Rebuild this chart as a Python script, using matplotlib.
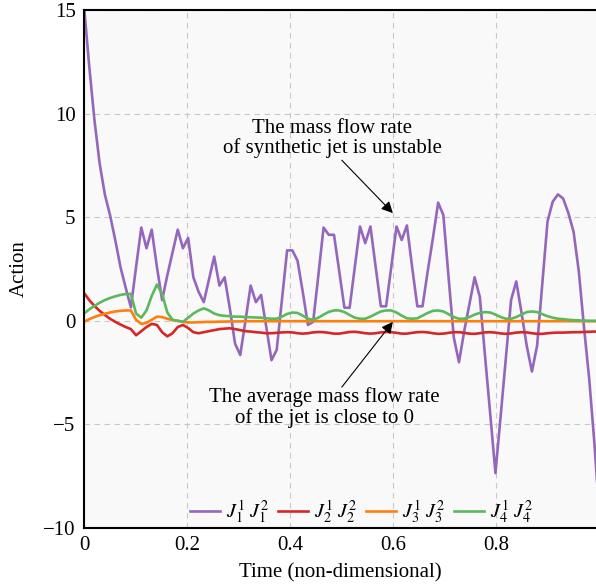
import matplotlib

matplotlib.use("Agg")
import matplotlib.pyplot as plt
import numpy as np

plt.rcParams["font.family"] = ["Liberation Serif", "DejaVu Serif"]
plt.rcParams["mathtext.fontset"] = "stix"

# time grid: 100 samples over [0, 1]
t = np.linspace(0, 1, 100)

j1 = [15.2, 12.3, 9.7, 7.6, 6.1, 5.1, 3.9, 2.6, 1.6, 0.65,
      2.6, 4.5, 3.5, 4.4, 2.6, 1.0, 2.2, 3.3, 4.4, 3.5,
      4.0, 2.1, 1.4, 0.9, 2.0, 3.1, 1.7, 2.1, 0.6, -1.1,
      -1.65, 0.0, 1.7, 0.9, 1.25, -0.3, -1.9, -1.4, 1.0, 3.4,
      3.4, 2.9, 1.4, -0.2, -0.05, 2.2, 4.5, 4.15, 4.15, 2.4,
      0.63, 0.63, 2.6, 4.55, 3.75, 4.55, 2.6, 0.7, 0.7, 2.6,
      4.55, 3.9, 4.6, 2.6, 0.7, 0.7, 2.4, 4.0, 5.7, 5.1,
      2.1, -0.8, -2.0, -0.5, 0.8, 2.1, 1.15, -1.7, -4.5, -7.35,
      -4.6, -1.8, 1.0, 1.9, 0.4, -1.2, -2.45, -1.2, 1.8, 4.8,
      5.75, 6.1, 5.9, 5.2, 4.3, 2.4, -0.3, -2.8, -5.9, -9.6]

j2 = [1.35, 1.0, 0.72, 0.48, 0.28, 0.1, -0.05, -0.18, -0.3, -0.4,
      -0.7, -0.5, -0.3, -0.15, -0.2, -0.55, -0.75, -0.6, -0.3, -0.2,
      -0.35, -0.55, -0.6, -0.55, -0.5, -0.45, -0.4, -0.38, -0.36, -0.4,
      -0.45, -0.5, -0.52, -0.55, -0.57, -0.6, -0.6, -0.58, -0.56, -0.55,
      -0.56, -0.6, -0.62, -0.6, -0.56, -0.54, -0.55, -0.58, -0.62, -0.62,
      -0.58, -0.54, -0.53, -0.56, -0.6, -0.62, -0.6, -0.56, -0.54, -0.55,
      -0.58, -0.62, -0.62, -0.58, -0.55, -0.54, -0.56, -0.6, -0.63, -0.62,
      -0.58, -0.55, -0.55, -0.58, -0.62, -0.63, -0.6, -0.56, -0.55, -0.57,
      -0.61, -0.63, -0.61, -0.57, -0.55, -0.56, -0.6, -0.63, -0.63, -0.6,
      -0.58, -0.57, -0.57, -0.56, -0.55, -0.55, -0.54, -0.53, -0.52, -0.52]

j3 = [-0.05, 0.08, 0.18, 0.27, 0.34, 0.4, 0.45, 0.48, 0.5, 0.5,
      0.05, -0.15, -0.1, 0.05, 0.2, 0.18, 0.1, 0.03, 0.0, -0.05,
      -0.08, -0.08, -0.07, -0.06, -0.05, -0.05, -0.04, -0.04, -0.03, -0.03,
      -0.03, -0.02, -0.02, -0.02, -0.02, -0.02, -0.02, -0.02, -0.02, -0.02,
      -0.02, -0.02, -0.02, -0.02, -0.02, -0.02, -0.02, -0.02, -0.02, -0.02,
      -0.02, -0.02, -0.02, -0.02, -0.02, -0.02, -0.02, -0.02, -0.02, -0.02,
      -0.02, -0.02, -0.02, -0.02, -0.02, -0.02, -0.02, -0.02, -0.02, -0.02,
      -0.02, -0.02, -0.02, -0.02, -0.02, -0.02, -0.02, -0.02, -0.02, -0.02,
      -0.02, -0.02, -0.02, -0.02, -0.02, -0.02, -0.02, -0.02, -0.02, -0.02,
      -0.02, -0.02, -0.02, -0.02, -0.02, -0.02, -0.02, -0.02, -0.02, -0.02]

j4 = [0.35, 0.55, 0.72, 0.87, 1.0, 1.1, 1.18, 1.25, 1.29, 1.3,
      0.35, 0.15, 0.5, 1.2, 1.75, 1.3, 0.4, 0.05, 0.0, -0.05,
      0.15, 0.35, 0.5, 0.6, 0.5, 0.35, 0.27, 0.24, 0.22, 0.2,
      0.2, 0.18, 0.17, 0.16, 0.15, 0.12, 0.1, 0.1, 0.2, 0.33,
      0.4, 0.38, 0.25, 0.1, 0.05, 0.15, 0.3, 0.43, 0.5, 0.5,
      0.42, 0.28, 0.15, 0.1, 0.1, 0.2, 0.33, 0.45, 0.5, 0.5,
      0.4, 0.25, 0.12, 0.1, 0.12, 0.25, 0.38, 0.48, 0.5, 0.45,
      0.32, 0.18, 0.1, 0.1, 0.18, 0.3, 0.38, 0.42, 0.4, 0.3,
      0.18, 0.1, 0.1, 0.18, 0.3, 0.42, 0.45, 0.42, 0.32, 0.22,
      0.15, 0.1, 0.08, 0.05, 0.03, 0.02, 0.01, 0.0, 0.0, 0.0]

series = [(j1, "#9467bd", r"$J_1^1\ J_1^2$"),
          (j2, "#d62728", r"$J_2^1\ J_2^2$"),
          (j3, "#ff7f0e", r"$J_3^1\ J_3^2$"),
          (j4, "#5cb85c", r"$J_4^1\ J_4^2$")]

fig = plt.figure(figsize=(5.96, 5.85), dpi=100)
ax = fig.add_axes([84 / 596, 57 / 585, 512 / 596, 518 / 585])
ax.set_facecolor("#f9f9f9")

for y, c, lbl in series:
    ax.plot(t, y, color=c, lw=1.9, label=lbl)

ax.set_xlim(0, 0.993)
ax.set_ylim(-10, 15)
ax.set_xticks([0, 0.2, 0.4, 0.6, 0.8])
ax.set_xticklabels(["0", "0.2", "0.4", "0.6", "0.8"])
ax.set_yticks([-10, -5, 0, 5, 10, 15])
ax.set_yticklabels(["\u221210", "\u22125", "0", "5", "10", "15"])
ax.tick_params(length=0, labelsize=15, pad=6)
ax.grid(True, ls=(0, (5, 4)), color="#c8c8c8", lw=0.8)
for s in ("left", "bottom", "top"):
    ax.spines[s].set_linewidth(1.5)
ax.spines["right"].set_visible(False)

ax.set_xlabel("Time (non-dimensional)", fontsize=15, labelpad=6)
ax.set_ylabel("Action", fontsize=15, labelpad=10)

arrow = dict(arrowstyle="-|>", color="black", lw=0.8, mutation_scale=17,
             shrinkA=0, shrinkB=0)
ax.text(0.481, 8.8, "The mass flow rate\nof synthetic jet is unstable",
        ha="center", va="center", fontsize=15, linespacing=1.0)
ax.annotate("", xy=(0.599, 5.2), xytext=(0.5, 7.75), arrowprops=arrow)
ax.text(0.467, -4.2, "The average mass flow rate\nof the jet is close to 0",
        ha="center", va="center", fontsize=15, linespacing=1.05)
ax.annotate("", xy=(0.599, -0.05), xytext=(0.5, -3.2), arrowprops=arrow)

ax.legend(loc="center", bbox_to_anchor=(0.543, 0.03), ncol=4, frameon=False,
          fontsize=14.5, handlelength=1.5, handletextpad=0.3, columnspacing=0.4,
          borderaxespad=0)

fig.savefig("out.png", dpi=100)
